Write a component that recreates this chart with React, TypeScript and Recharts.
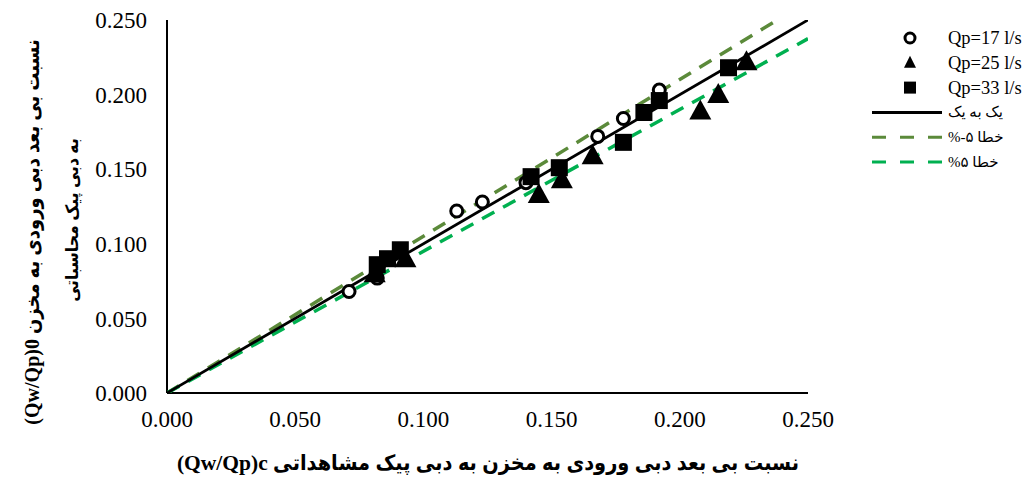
import { ScatterChart, Scatter, XAxis, YAxis } from "recharts";

const axisTicks = [0, 0.05, 0.1, 0.15, 0.2, 0.25];

// observed (x) vs computed (y) for each peak flow
const qp17X = [0.071, 0.082, 0.113, 0.123, 0.14, 0.168, 0.178, 0.192];
const qp17Y = [0.068, 0.077, 0.122, 0.128, 0.141, 0.172, 0.184, 0.203];

const qp25X = [0.081, 0.093, 0.145, 0.154, 0.166, 0.208, 0.215, 0.226];
const qp25Y = [0.079, 0.089, 0.132, 0.142, 0.158, 0.188, 0.199, 0.221];

const qp33X = [0.082, 0.086, 0.091, 0.142, 0.153, 0.178, 0.186, 0.192, 0.219];
const qp33Y = [0.086, 0.09, 0.096, 0.145, 0.151, 0.168, 0.188, 0.196, 0.218];

const oneToOneX = [0, 0.25];
const oneToOneY = [0, 0.25];
const minus5X = [0, 0.238];
const minus5Y = [0, 0.25];
const plus5X = [0, 0.25];
const plus5Y = [0, 0.2375];

const legendLabels = ["Qp=17 l/s", "Qp=25 l/s", "Qp=33 l/s", "یک به یک", "%-۵ خطا", "%۵ خطا"];

const xTitle = "(Qw/Qp)c نسبت بی بعد دبی ورودی به مخزن به دبی پیک مشاهداتی";
const yTitle1 = "(Qw/Qp)0 نسبت بی بعد دبی ورودی به مخزن";
const yTitle2 = "به دبی پیک محاسباتی";

const zip = (xs: number[], ys: number[]) => xs.map((x, i) => ({ x, y: ys[i] }));

const FONT = "'Liberation Serif', 'DejaVu Sans', serif";
const TITLE_FONT = "'Liberation Serif', 'DejaVu Sans Condensed', 'DejaVu Sans', serif";
const OLIVE = "#5b8a3a";
const GREEN = "#00b050";

const Circle = (p: any) => (
  <circle cx={p.cx} cy={p.cy} r={6} fill="#fff" stroke="#000" strokeWidth={3} />
);
const Triangle = (p: any) => (
  <polygon
    points={`${p.cx},${p.cy - 13} ${p.cx + 11},${p.cy + 7} ${p.cx - 11},${p.cy + 7}`}
    fill="#000"
  />
);
const Square = (p: any) => (
  <rect x={p.cx - 8.5} y={p.cy - 8.5} width={17} height={17} fill="#000" />
);
const NoDot = () => null;

function LegendBox() {
  const rowY = (i: number) => 38 + i * 24.8;
  return (
    <g>
      <circle cx={910} cy={rowY(0)} r={5} fill="#fff" stroke="#000" strokeWidth={3} />
      <polygon points={`910,${rowY(1) - 7} 916,${rowY(1) + 5} 904,${rowY(1) + 5}`} fill="#000" />
      <rect x={904} y={rowY(2) - 6} width={12} height={12} fill="#000" />
      <line x1={872} x2={942} y1={rowY(3)} y2={rowY(3)} stroke="#000" strokeWidth={3} />
      <line x1={872} x2={942} y1={rowY(4)} y2={rowY(4)} stroke={OLIVE} strokeWidth={3} strokeDasharray="14 14" />
      <line x1={872} x2={942} y1={rowY(5)} y2={rowY(5)} stroke={GREEN} strokeWidth={3} strokeDasharray="14 14" />
      {legendLabels.map((t, i) => (
        <text
          key={t}
          x={948}
          y={rowY(i)}
          dy="0.33em"
          fontSize={i < 3 ? 18.5 : 15}
          fontFamily={FONT}
          fill="#000"
        >
          {t}
        </text>
      ))}
    </g>
  );
}

export default function App() {
  return (
    <div style={{ position: "absolute", left: 0, top: 0, width: 1024, height: 477, background: "#fff" }}>
      <ScatterChart
        width={1024}
        height={477}
        margin={{ top: 20, right: 216, bottom: 0, left: 0 }}
        style={{ fontFamily: FONT }}
      >
        <XAxis
          type="number"
          dataKey="x"
          domain={[0, 0.25]}
          ticks={axisTicks}
          tickFormatter={(v: number) => v.toFixed(3)}
          height={84}
          tickLine={false}
          tickSize={0}
          tickMargin={18}
          axisLine={{ stroke: "#000", strokeWidth: 2 }}
          tick={{ fill: "#000", fontSize: 23, fontFamily: FONT }}
          allowDataOverflow
        />
        <YAxis
          type="number"
          dataKey="y"
          domain={[0, 0.25]}
          ticks={axisTicks}
          tickFormatter={(v: number) => v.toFixed(3)}
          width={167}
          tickLine={false}
          tickSize={0}
          tickMargin={20}
          axisLine={{ stroke: "#000", strokeWidth: 2 }}
          tick={{ fill: "#000", fontSize: 23, fontFamily: FONT }}
          allowDataOverflow
        />
        <Scatter
          name="minus5"
          data={zip(minus5X, minus5Y)}
          line={{ stroke: OLIVE, strokeWidth: 3.5, strokeDasharray: "14 10" }}
          lineType="joint"
          shape={NoDot}
          isAnimationActive={false}
        />
        <Scatter
          name="plus5"
          data={zip(plus5X, plus5Y)}
          line={{ stroke: GREEN, strokeWidth: 3.5, strokeDasharray: "14 10" }}
          lineType="joint"
          shape={NoDot}
          isAnimationActive={false}
        />
        <Scatter
          name="oneToOne"
          data={zip(oneToOneX, oneToOneY)}
          line={{ stroke: "#000", strokeWidth: 2.8 }}
          lineType="joint"
          shape={NoDot}
          isAnimationActive={false}
        />
        <Scatter name="Qp=17 l/s" data={zip(qp17X, qp17Y)} shape={Circle} isAnimationActive={false} />
        <Scatter name="Qp=25 l/s" data={zip(qp25X, qp25Y)} shape={Triangle} isAnimationActive={false} />
        <Scatter name="Qp=33 l/s" data={zip(qp33X, qp33Y)} shape={Square} isAnimationActive={false} />
      </ScatterChart>
      <svg
        width={1024}
        height={477}
        style={{ position: "absolute", left: 0, top: 0, pointerEvents: "none" }}
      >
        <LegendBox />
        <text
          x={488}
          y={462}
          dy="0.35em"
          textAnchor="middle"
          fontSize={21.5}
          fontWeight="bold"
          fontFamily={TITLE_FONT}
          fill="#000"
        >
          {xTitle}
        </text>
        <text
          transform="translate(32,232) rotate(-90)"
          dy="0.35em"
          textAnchor="middle"
          fontSize={20}
          fontWeight="bold"
          fontFamily={TITLE_FONT}
          fill="#000"
        >
          {yTitle1}
        </text>
        <text
          transform="translate(72,220) rotate(-90)"
          dy="0.35em"
          textAnchor="middle"
          fontSize={17.5}
          fontWeight="bold"
          fontFamily={TITLE_FONT}
          fill="#000"
        >
          {yTitle2}
        </text>
      </svg>
    </div>
  );
}
